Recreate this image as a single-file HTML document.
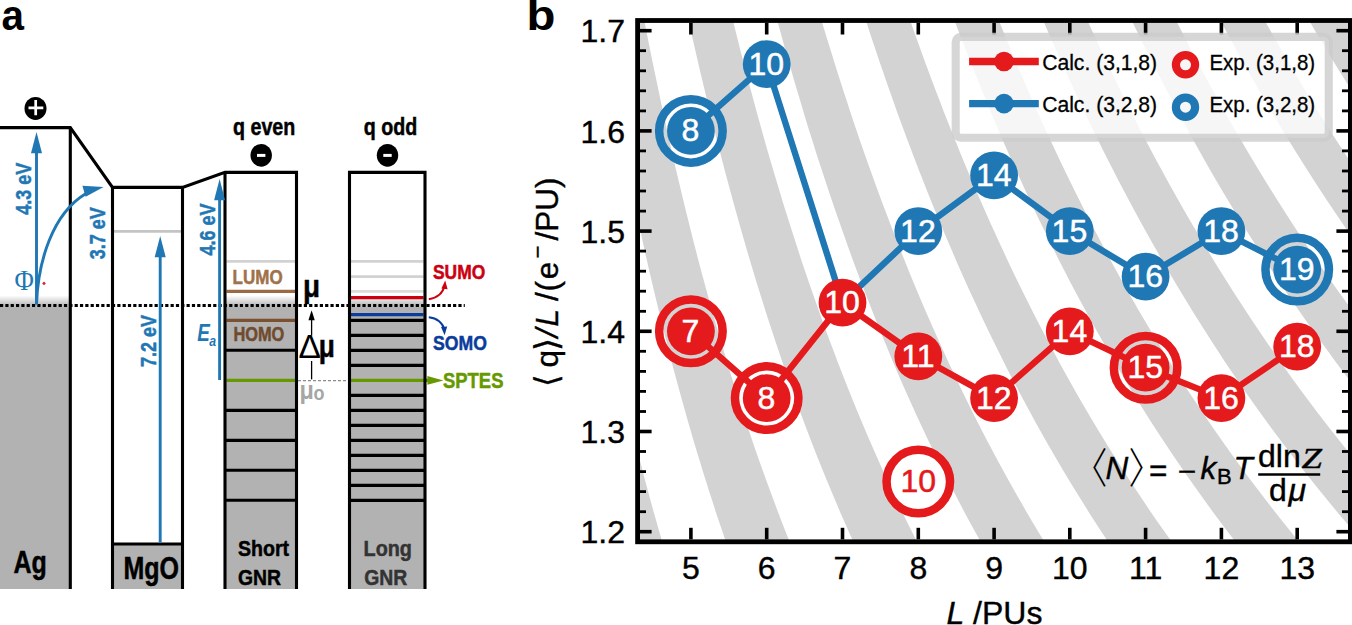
<!DOCTYPE html>
<html lang="en">
<head>
<meta charset="utf-8">
<title>Figure</title>
<style>html,body{margin:0;padding:0;background:#fff;}body{width:1352px;height:625px;overflow:hidden;}svg{display:block;}</style>
</head>
<body>
<svg width="1352" height="625" viewBox="0 0 1352 625">
<defs>
<clipPath id="axclip"><rect x="637.6" y="20.5" width="712.8000000000001" height="521.3"/></clipPath>
<linearGradient id="fade" x1="0" y1="0" x2="0" y2="1"><stop offset="0" stop-color="#b2b2b2" stop-opacity="0"/><stop offset="1" stop-color="#b2b2b2" stop-opacity="1"/></linearGradient>
</defs>
<rect width="1352" height="625" fill="#fff"/>
<g clip-path="url(#axclip)" fill="#d3d3d3">
<path d="M606.0,571.8 L603.4,561.8 L601.0,551.7 L598.6,541.7 L596.2,531.7 L593.8,521.7 L591.5,511.7 L589.2,501.6 L587.0,491.6 L584.8,481.6 L582.6,471.6 L580.5,461.6 L578.4,451.5 L576.3,441.5 L574.3,431.5 L572.3,421.5 L570.3,411.5 L568.4,401.4 L566.5,391.4 L564.6,381.4 L562.7,371.4 L560.9,361.4 L559.1,351.3 L557.3,341.3 L555.6,331.3 L553.8,321.3 L552.1,311.3 L550.5,301.2 L548.8,291.2 L547.2,281.2 L545.5,271.2 L544.0,261.2 L542.4,251.1 L540.8,241.1 L539.3,231.1 L537.8,221.1 L536.3,211.1 L534.9,201.0 L533.4,191.0 L532.0,181.0 L530.6,171.0 L529.2,161.0 L527.8,150.9 L526.5,140.9 L525.1,130.9 L523.8,120.9 L522.5,110.9 L521.2,100.8 L519.9,90.8 L518.6,80.8 L517.4,70.8 L516.2,60.8 L515.0,50.7 L513.8,40.7 L512.6,30.7 L511.4,20.7 L510.2,10.7 L509.1,0.6 L508.0,-9.4 L506.8,-19.4 L550.1,-19.4 L551.5,-9.4 L552.9,0.6 L554.3,10.7 L555.7,20.7 L557.2,30.7 L558.6,40.7 L560.1,50.7 L561.6,60.8 L563.1,70.8 L564.6,80.8 L566.1,90.8 L567.7,100.8 L569.3,110.9 L570.9,120.9 L572.5,130.9 L574.1,140.9 L575.8,150.9 L577.5,161.0 L579.2,171.0 L580.9,181.0 L582.6,191.0 L584.4,201.0 L586.2,211.1 L588.0,221.1 L589.8,231.1 L591.7,241.1 L593.6,251.1 L595.5,261.2 L597.5,271.2 L599.4,281.2 L601.4,291.2 L603.4,301.2 L605.5,311.3 L607.6,321.3 L609.7,331.3 L611.8,341.3 L614.0,351.3 L616.2,361.4 L618.5,371.4 L620.7,381.4 L623.0,391.4 L625.4,401.4 L627.7,411.5 L630.2,421.5 L632.6,431.5 L635.1,441.5 L637.6,451.5 L640.2,461.6 L642.8,471.6 L645.4,481.6 L648.1,491.6 L650.8,501.6 L653.6,511.7 L656.5,521.7 L659.3,531.7 L662.2,541.7 L665.2,551.7 L668.2,561.8 L671.3,571.8Z"/>
<path d="M736.6,571.8 L733.0,561.8 L729.4,551.7 L725.9,541.7 L722.5,531.7 L719.1,521.7 L715.7,511.7 L712.5,501.6 L709.2,491.6 L706.1,481.6 L702.9,471.6 L699.9,461.6 L696.8,451.5 L693.8,441.5 L690.9,431.5 L688.0,421.5 L685.2,411.5 L682.4,401.4 L679.6,391.4 L676.9,381.4 L674.2,371.4 L671.5,361.4 L668.9,351.3 L666.4,341.3 L663.8,331.3 L661.3,321.3 L658.9,311.3 L656.5,301.2 L654.1,291.2 L651.7,281.2 L649.4,271.2 L647.1,261.2 L644.8,251.1 L642.6,241.1 L640.4,231.1 L638.2,221.1 L636.1,211.1 L633.9,201.0 L631.8,191.0 L629.8,181.0 L627.7,171.0 L625.7,161.0 L623.7,150.9 L621.8,140.9 L619.8,130.9 L617.9,120.9 L616.0,110.9 L614.2,100.8 L612.3,90.8 L610.5,80.8 L608.7,70.8 L606.9,60.8 L605.2,50.7 L603.4,40.7 L601.7,30.7 L600.0,20.7 L598.4,10.7 L596.7,0.6 L595.1,-9.4 L593.5,-19.4 L636.8,-19.4 L638.6,-9.4 L640.5,0.6 L642.4,10.7 L644.4,20.7 L646.3,30.7 L648.3,40.7 L650.3,50.7 L652.3,60.8 L654.4,70.8 L656.5,80.8 L658.6,90.8 L660.7,100.8 L662.8,110.9 L665.0,120.9 L667.2,130.9 L669.5,140.9 L671.7,150.9 L674.0,161.0 L676.3,171.0 L678.7,181.0 L681.1,191.0 L683.5,201.0 L685.9,211.1 L688.4,221.1 L690.9,231.1 L693.4,241.1 L696.0,251.1 L698.6,261.2 L701.3,271.2 L704.0,281.2 L706.7,291.2 L709.5,301.2 L712.2,311.3 L715.1,321.3 L718.0,331.3 L720.9,341.3 L723.9,351.3 L726.9,361.4 L729.9,371.4 L733.0,381.4 L736.1,391.4 L739.3,401.4 L742.6,411.5 L745.9,421.5 L749.2,431.5 L752.6,441.5 L756.0,451.5 L759.5,461.6 L763.1,471.6 L766.7,481.6 L770.4,491.6 L774.1,501.6 L777.9,511.7 L781.7,521.7 L785.6,531.7 L789.6,541.7 L793.7,551.7 L797.8,561.8 L802.0,571.8Z"/>
<path d="M867.3,571.8 L862.6,561.8 L857.9,551.7 L853.3,541.7 L848.8,531.7 L844.4,521.7 L840.0,511.7 L835.7,501.6 L831.5,491.6 L827.3,481.6 L823.2,471.6 L819.2,461.6 L815.2,451.5 L811.3,441.5 L807.5,431.5 L803.7,421.5 L800.0,411.5 L796.3,401.4 L792.7,391.4 L789.1,381.4 L785.6,371.4 L782.2,361.4 L778.8,351.3 L775.4,341.3 L772.1,331.3 L768.8,321.3 L765.6,311.3 L762.5,301.2 L759.3,291.2 L756.2,281.2 L753.2,271.2 L750.2,261.2 L747.2,251.1 L744.3,241.1 L741.4,231.1 L738.6,221.1 L735.8,211.1 L733.0,201.0 L730.3,191.0 L727.6,181.0 L724.9,171.0 L722.3,161.0 L719.7,150.9 L717.1,140.9 L714.6,130.9 L712.1,120.9 L709.6,110.9 L707.2,100.8 L704.8,90.8 L702.4,80.8 L700.0,70.8 L697.7,60.8 L695.4,50.7 L693.1,40.7 L690.9,30.7 L688.7,20.7 L686.5,10.7 L684.3,0.6 L682.2,-9.4 L680.1,-19.4 L723.4,-19.4 L725.7,-9.4 L728.1,0.6 L730.6,10.7 L733.0,20.7 L735.5,30.7 L738.0,40.7 L740.5,50.7 L743.1,60.8 L745.7,70.8 L748.3,80.8 L751.0,90.8 L753.7,100.8 L756.4,110.9 L759.2,120.9 L762.0,130.9 L764.8,140.9 L767.6,150.9 L770.6,161.0 L773.5,171.0 L776.5,181.0 L779.5,191.0 L782.5,201.0 L785.6,211.1 L788.8,221.1 L792.0,231.1 L795.2,241.1 L798.4,251.1 L801.7,261.2 L805.1,271.2 L808.5,281.2 L812.0,291.2 L815.5,301.2 L819.0,311.3 L822.6,321.3 L826.2,331.3 L829.9,341.3 L833.7,351.3 L837.5,361.4 L841.4,371.4 L845.3,381.4 L849.3,391.4 L853.3,401.4 L857.4,411.5 L861.6,421.5 L865.8,431.5 L870.1,441.5 L874.5,451.5 L878.9,461.6 L883.4,471.6 L888.0,481.6 L892.6,491.6 L897.3,501.6 L902.1,511.7 L907.0,521.7 L912.0,531.7 L917.0,541.7 L922.1,551.7 L927.3,561.8 L932.6,571.8Z"/>
<path d="M998.0,571.8 L992.1,561.8 L986.4,551.7 L980.7,541.7 L975.1,531.7 L969.6,521.7 L964.2,511.7 L958.9,501.6 L953.7,491.6 L948.6,481.6 L943.5,471.6 L938.6,461.6 L933.7,451.5 L928.8,441.5 L924.1,431.5 L919.4,421.5 L914.8,411.5 L910.3,401.4 L905.8,391.4 L901.4,381.4 L897.1,371.4 L892.8,361.4 L888.6,351.3 L884.5,341.3 L880.4,331.3 L876.3,321.3 L872.4,311.3 L868.5,301.2 L864.6,291.2 L860.8,281.2 L857.0,271.2 L853.3,261.2 L849.6,251.1 L846.0,241.1 L842.5,231.1 L839.0,221.1 L835.5,211.1 L832.1,201.0 L828.7,191.0 L825.4,181.0 L822.1,171.0 L818.8,161.0 L815.6,150.9 L812.5,140.9 L809.3,130.9 L806.2,120.9 L803.2,110.9 L800.2,100.8 L797.2,90.8 L794.2,80.8 L791.3,70.8 L788.5,60.8 L785.6,50.7 L782.8,40.7 L780.1,30.7 L777.3,20.7 L774.6,10.7 L771.9,0.6 L769.3,-9.4 L766.7,-19.4 L810.0,-19.4 L812.9,-9.4 L815.8,0.6 L818.7,10.7 L821.6,20.7 L824.6,30.7 L827.7,40.7 L830.8,50.7 L833.9,60.8 L837.0,70.8 L840.2,80.8 L843.4,90.8 L846.7,100.8 L850.0,110.9 L853.3,120.9 L856.7,130.9 L860.1,140.9 L863.6,150.9 L867.1,161.0 L870.7,171.0 L874.3,181.0 L877.9,191.0 L881.6,201.0 L885.4,211.1 L889.2,221.1 L893.0,231.1 L896.9,241.1 L900.9,251.1 L904.9,261.2 L908.9,271.2 L913.0,281.2 L917.2,291.2 L921.4,301.2 L925.7,311.3 L930.1,321.3 L934.5,331.3 L939.0,341.3 L943.5,351.3 L948.1,361.4 L952.8,371.4 L957.6,381.4 L962.4,391.4 L967.3,401.4 L972.2,411.5 L977.3,421.5 L982.4,431.5 L987.6,441.5 L992.9,451.5 L998.2,461.6 L1003.7,471.6 L1009.2,481.6 L1014.8,491.6 L1020.6,501.6 L1026.4,511.7 L1032.3,521.7 L1038.3,531.7 L1044.4,541.7 L1050.6,551.7 L1056.9,561.8 L1063.3,571.8Z"/>
<path d="M1128.7,571.8 L1121.7,561.8 L1114.8,551.7 L1108.1,541.7 L1101.4,531.7 L1094.9,521.7 L1088.5,511.7 L1082.2,501.6 L1076.0,491.6 L1069.8,481.6 L1063.8,471.6 L1057.9,461.6 L1052.1,451.5 L1046.3,441.5 L1040.7,431.5 L1035.1,421.5 L1029.7,411.5 L1024.3,401.4 L1018.9,391.4 L1013.7,381.4 L1008.5,371.4 L1003.5,361.4 L998.5,351.3 L993.5,341.3 L988.6,331.3 L983.8,321.3 L979.1,311.3 L974.5,301.2 L969.8,291.2 L965.3,281.2 L960.8,271.2 L956.4,261.2 L952.1,251.1 L947.8,241.1 L943.5,231.1 L939.4,221.1 L935.2,211.1 L931.1,201.0 L927.1,191.0 L923.2,181.0 L919.2,171.0 L915.4,161.0 L911.6,150.9 L907.8,140.9 L904.1,130.9 L900.4,120.9 L896.7,110.9 L893.2,100.8 L889.6,90.8 L886.1,80.8 L882.7,70.8 L879.2,60.8 L875.9,50.7 L872.5,40.7 L869.2,30.7 L866.0,20.7 L862.7,10.7 L859.6,0.6 L856.4,-9.4 L853.3,-19.4 L896.6,-19.4 L900.0,-9.4 L903.4,0.6 L906.8,10.7 L910.3,20.7 L913.8,30.7 L917.4,40.7 L921.0,50.7 L924.6,60.8 L928.3,70.8 L932.0,80.8 L935.8,90.8 L939.7,100.8 L943.5,110.9 L947.5,120.9 L951.4,130.9 L955.5,140.9 L959.5,150.9 L963.6,161.0 L967.8,171.0 L972.1,181.0 L976.3,191.0 L980.7,201.0 L985.1,211.1 L989.5,221.1 L994.1,231.1 L998.6,241.1 L1003.3,251.1 L1008.0,261.2 L1012.7,271.2 L1017.6,281.2 L1022.5,291.2 L1027.5,301.2 L1032.5,311.3 L1037.6,321.3 L1042.8,331.3 L1048.0,341.3 L1053.4,351.3 L1058.8,361.4 L1064.3,371.4 L1069.9,381.4 L1075.5,391.4 L1081.2,401.4 L1087.1,411.5 L1093.0,421.5 L1099.0,431.5 L1105.1,441.5 L1111.3,451.5 L1117.6,461.6 L1124.0,471.6 L1130.5,481.6 L1137.1,491.6 L1143.8,501.6 L1150.6,511.7 L1157.5,521.7 L1164.6,531.7 L1171.8,541.7 L1179.0,551.7 L1186.5,561.8 L1194.0,571.8Z"/>
<path d="M1259.3,571.8 L1251.2,561.8 L1243.3,551.7 L1235.4,541.7 L1227.7,531.7 L1220.2,521.7 L1212.7,511.7 L1205.4,501.6 L1198.2,491.6 L1191.1,481.6 L1184.1,471.6 L1177.3,461.6 L1170.5,451.5 L1163.9,441.5 L1157.3,431.5 L1150.8,421.5 L1144.5,411.5 L1138.2,401.4 L1132.1,391.4 L1126.0,381.4 L1120.0,371.4 L1114.1,361.4 L1108.3,351.3 L1102.6,341.3 L1096.9,331.3 L1091.4,321.3 L1085.9,311.3 L1080.5,301.2 L1075.1,291.2 L1069.8,281.2 L1064.7,271.2 L1059.5,261.2 L1054.5,251.1 L1049.5,241.1 L1044.6,231.1 L1039.7,221.1 L1034.9,211.1 L1030.2,201.0 L1025.6,191.0 L1021.0,181.0 L1016.4,171.0 L1011.9,161.0 L1007.5,150.9 L1003.1,140.9 L998.8,130.9 L994.5,120.9 L990.3,110.9 L986.2,100.8 L982.0,90.8 L978.0,80.8 L974.0,70.8 L970.0,60.8 L966.1,50.7 L962.2,40.7 L958.4,30.7 L954.6,20.7 L950.9,10.7 L947.2,0.6 L943.5,-9.4 L939.9,-19.4 L983.2,-19.4 L987.1,-9.4 L991.0,0.6 L994.9,10.7 L998.9,20.7 L1003.0,30.7 L1007.1,40.7 L1011.2,50.7 L1015.4,60.8 L1019.6,70.8 L1023.9,80.8 L1028.3,90.8 L1032.7,100.8 L1037.1,110.9 L1041.6,120.9 L1046.2,130.9 L1050.8,140.9 L1055.5,150.9 L1060.2,161.0 L1065.0,171.0 L1069.9,181.0 L1074.8,191.0 L1079.8,201.0 L1084.8,211.1 L1089.9,221.1 L1095.1,231.1 L1100.4,241.1 L1105.7,251.1 L1111.1,261.2 L1116.6,271.2 L1122.1,281.2 L1127.7,291.2 L1133.5,301.2 L1139.2,311.3 L1145.1,321.3 L1151.1,331.3 L1157.1,341.3 L1163.2,351.3 L1169.4,361.4 L1175.7,371.4 L1182.1,381.4 L1188.6,391.4 L1195.2,401.4 L1201.9,411.5 L1208.7,421.5 L1215.6,431.5 L1222.6,441.5 L1229.7,451.5 L1236.9,461.6 L1244.3,471.6 L1251.7,481.6 L1259.3,491.6 L1267.0,501.6 L1274.9,511.7 L1282.8,521.7 L1290.9,531.7 L1299.1,541.7 L1307.5,551.7 L1316.0,561.8 L1324.7,571.8Z"/>
<path d="M1390.0,571.8 L1380.8,561.8 L1371.7,551.7 L1362.8,541.7 L1354.1,531.7 L1345.5,521.7 L1337.0,511.7 L1328.6,501.6 L1320.4,491.6 L1312.4,481.6 L1304.4,471.6 L1296.6,461.6 L1288.9,451.5 L1281.4,441.5 L1273.9,431.5 L1266.6,421.5 L1259.3,411.5 L1252.2,401.4 L1245.2,391.4 L1238.3,381.4 L1231.5,371.4 L1224.7,361.4 L1218.1,351.3 L1211.6,341.3 L1205.2,331.3 L1198.9,321.3 L1192.6,311.3 L1186.5,301.2 L1180.4,291.2 L1174.4,281.2 L1168.5,271.2 L1162.7,261.2 L1156.9,251.1 L1151.2,241.1 L1145.6,231.1 L1140.1,221.1 L1134.7,211.1 L1129.3,201.0 L1124.0,191.0 L1118.7,181.0 L1113.6,171.0 L1108.5,161.0 L1103.4,150.9 L1098.5,140.9 L1093.5,130.9 L1088.7,120.9 L1083.9,110.9 L1079.1,100.8 L1074.5,90.8 L1069.8,80.8 L1065.3,70.8 L1060.8,60.8 L1056.3,50.7 L1051.9,40.7 L1047.6,30.7 L1043.3,20.7 L1039.0,10.7 L1034.8,0.6 L1030.6,-9.4 L1026.5,-19.4 L1069.8,-19.4 L1074.2,-9.4 L1078.6,0.6 L1083.1,10.7 L1087.6,20.7 L1092.1,30.7 L1096.8,40.7 L1101.4,50.7 L1106.2,60.8 L1110.9,70.8 L1115.8,80.8 L1120.7,90.8 L1125.6,100.8 L1130.7,110.9 L1135.8,120.9 L1140.9,130.9 L1146.1,140.9 L1151.4,150.9 L1156.7,161.0 L1162.2,171.0 L1167.6,181.0 L1173.2,191.0 L1178.8,201.0 L1184.5,211.1 L1190.3,221.1 L1196.2,231.1 L1202.1,241.1 L1208.1,251.1 L1214.2,261.2 L1220.4,271.2 L1226.7,281.2 L1233.0,291.2 L1239.5,301.2 L1246.0,311.3 L1252.6,321.3 L1259.3,331.3 L1266.1,341.3 L1273.1,351.3 L1280.1,361.4 L1287.2,371.4 L1294.4,381.4 L1301.7,391.4 L1309.2,401.4 L1316.7,411.5 L1324.4,421.5 L1332.2,431.5 L1340.1,441.5 L1348.1,451.5 L1356.3,461.6 L1364.6,471.6 L1373.0,481.6 L1381.6,491.6 L1390.3,501.6 L1399.1,511.7 L1408.1,521.7 L1417.2,531.7 L1426.5,541.7 L1436.0,551.7 L1445.6,561.8 L1455.3,571.8Z"/>
<path d="M1520.7,571.8 L1510.3,561.8 L1500.2,551.7 L1490.2,541.7 L1480.4,531.7 L1470.7,521.7 L1461.2,511.7 L1451.9,501.6 L1442.7,491.6 L1433.6,481.6 L1424.7,471.6 L1416.0,461.6 L1407.4,451.5 L1398.9,441.5 L1390.5,431.5 L1382.3,421.5 L1374.2,411.5 L1366.2,401.4 L1358.3,391.4 L1350.6,381.4 L1342.9,371.4 L1335.4,361.4 L1328.0,351.3 L1320.7,341.3 L1313.5,331.3 L1306.4,321.3 L1299.4,311.3 L1292.5,301.2 L1285.6,291.2 L1278.9,281.2 L1272.3,271.2 L1265.8,261.2 L1259.3,251.1 L1253.0,241.1 L1246.7,231.1 L1240.5,221.1 L1234.4,211.1 L1228.4,201.0 L1222.4,191.0 L1216.5,181.0 L1210.7,171.0 L1205.0,161.0 L1199.4,150.9 L1193.8,140.9 L1188.3,130.9 L1182.8,120.9 L1177.5,110.9 L1172.1,100.8 L1166.9,90.8 L1161.7,80.8 L1156.6,70.8 L1151.5,60.8 L1146.5,50.7 L1141.6,40.7 L1136.7,30.7 L1131.9,20.7 L1127.1,10.7 L1122.4,0.6 L1117.8,-9.4 L1113.2,-19.4 L1156.5,-19.4 L1161.3,-9.4 L1166.2,0.6 L1171.2,10.7 L1176.2,20.7 L1181.3,30.7 L1186.5,40.7 L1191.7,50.7 L1196.9,60.8 L1202.3,70.8 L1207.7,80.8 L1213.1,90.8 L1218.6,100.8 L1224.2,110.9 L1229.9,120.9 L1235.6,130.9 L1241.5,140.9 L1247.3,150.9 L1253.3,161.0 L1259.3,171.0 L1265.4,181.0 L1271.6,191.0 L1277.9,201.0 L1284.3,211.1 L1290.7,221.1 L1297.2,231.1 L1303.8,241.1 L1310.5,251.1 L1317.3,261.2 L1324.2,271.2 L1331.2,281.2 L1338.3,291.2 L1345.5,301.2 L1352.7,311.3 L1360.1,321.3 L1367.6,331.3 L1375.2,341.3 L1382.9,351.3 L1390.7,361.4 L1398.6,371.4 L1406.7,381.4 L1414.9,391.4 L1423.2,401.4 L1431.6,411.5 L1440.1,421.5 L1448.8,431.5 L1457.6,441.5 L1466.6,451.5 L1475.7,461.6 L1484.9,471.6 L1494.3,481.6 L1503.8,491.6 L1513.5,501.6 L1523.3,511.7 L1533.4,521.7 L1543.5,531.7 L1553.9,541.7 L1564.4,551.7 L1575.1,561.8 L1586.0,571.8Z"/>
<path d="M1651.3,571.8 L1639.9,561.8 L1628.6,551.7 L1617.6,541.7 L1606.7,531.7 L1596.0,521.7 L1585.5,511.7 L1575.1,501.6 L1564.9,491.6 L1554.9,481.6 L1545.0,471.6 L1535.3,461.6 L1525.8,451.5 L1516.4,441.5 L1507.1,431.5 L1498.0,421.5 L1489.0,411.5 L1480.1,401.4 L1471.4,391.4 L1462.8,381.4 L1454.4,371.4 L1446.0,361.4 L1437.8,351.3 L1429.7,341.3 L1421.7,331.3 L1413.9,321.3 L1406.1,311.3 L1398.5,301.2 L1390.9,291.2 L1383.5,281.2 L1376.1,271.2 L1368.9,261.2 L1361.7,251.1 L1354.7,241.1 L1347.7,231.1 L1340.9,221.1 L1334.1,211.1 L1327.4,201.0 L1320.8,191.0 L1314.3,181.0 L1307.9,171.0 L1301.6,161.0 L1295.3,150.9 L1289.1,140.9 L1283.0,130.9 L1277.0,120.9 L1271.0,110.9 L1265.1,100.8 L1259.3,90.8 L1253.6,80.8 L1247.9,70.8 L1242.3,60.8 L1236.8,50.7 L1231.3,40.7 L1225.9,30.7 L1220.5,20.7 L1215.3,10.7 L1210.0,0.6 L1204.9,-9.4 L1199.8,-19.4 L1243.1,-19.4 L1248.4,-9.4 L1253.8,0.6 L1259.3,10.7 L1264.9,20.7 L1270.5,30.7 L1276.1,40.7 L1281.9,50.7 L1287.7,60.8 L1293.6,70.8 L1299.5,80.8 L1305.5,90.8 L1311.6,100.8 L1317.8,110.9 L1324.1,120.9 L1330.4,130.9 L1336.8,140.9 L1343.3,150.9 L1349.8,161.0 L1356.5,171.0 L1363.2,181.0 L1370.1,191.0 L1377.0,201.0 L1384.0,211.1 L1391.1,221.1 L1398.3,231.1 L1405.6,241.1 L1413.0,251.1 L1420.4,261.2 L1428.0,271.2 L1435.7,281.2 L1443.5,291.2 L1451.5,301.2 L1459.5,311.3 L1467.6,321.3 L1475.9,331.3 L1484.2,341.3 L1492.7,351.3 L1501.4,361.4 L1510.1,371.4 L1519.0,381.4 L1528.0,391.4 L1537.1,401.4 L1546.4,411.5 L1555.8,421.5 L1565.4,431.5 L1575.1,441.5 L1585.0,451.5 L1595.0,461.6 L1605.2,471.6 L1615.5,481.6 L1626.1,491.6 L1636.7,501.6 L1647.6,511.7 L1658.6,521.7 L1669.9,531.7 L1681.3,541.7 L1692.9,551.7 L1704.7,561.8 L1716.7,571.8Z"/>
<path d="M1782.0,571.8 L1769.5,561.8 L1757.1,551.7 L1745.0,541.7 L1733.0,531.7 L1721.3,521.7 L1709.7,511.7 L1698.4,501.6 L1687.2,491.6 L1676.2,481.6 L1665.3,471.6 L1654.7,461.6 L1644.2,451.5 L1633.9,441.5 L1623.7,431.5 L1613.7,421.5 L1603.8,411.5 L1594.1,401.4 L1584.5,391.4 L1575.1,381.4 L1565.8,371.4 L1556.7,361.4 L1547.7,351.3 L1538.8,341.3 L1530.0,331.3 L1521.4,321.3 L1512.8,311.3 L1504.5,301.2 L1496.2,291.2 L1488.0,281.2 L1479.9,271.2 L1472.0,261.2 L1464.2,251.1 L1456.4,241.1 L1448.8,231.1 L1441.3,221.1 L1433.8,211.1 L1426.5,201.0 L1419.3,191.0 L1412.1,181.0 L1405.1,171.0 L1398.1,161.0 L1391.2,150.9 L1384.5,140.9 L1377.7,130.9 L1371.1,120.9 L1364.6,110.9 L1358.1,100.8 L1351.8,90.8 L1345.5,80.8 L1339.2,70.8 L1333.1,60.8 L1327.0,50.7 L1321.0,40.7 L1315.1,30.7 L1309.2,20.7 L1303.4,10.7 L1297.7,0.6 L1292.0,-9.4 L1286.4,-19.4 L1329.7,-19.4 L1335.6,-9.4 L1341.5,0.6 L1347.5,10.7 L1353.5,20.7 L1359.6,30.7 L1365.8,40.7 L1372.1,50.7 L1378.5,60.8 L1384.9,70.8 L1391.4,80.8 L1398.0,90.8 L1404.6,100.8 L1411.4,110.9 L1418.2,120.9 L1425.1,130.9 L1432.1,140.9 L1439.2,150.9 L1446.4,161.0 L1453.7,171.0 L1461.0,181.0 L1468.5,191.0 L1476.0,201.0 L1483.7,211.1 L1491.5,221.1 L1499.3,231.1 L1507.3,241.1 L1515.4,251.1 L1523.6,261.2 L1531.9,271.2 L1540.3,281.2 L1548.8,291.2 L1557.5,301.2 L1566.2,311.3 L1575.1,321.3 L1584.1,331.3 L1593.3,341.3 L1602.6,351.3 L1612.0,361.4 L1621.6,371.4 L1631.3,381.4 L1641.1,391.4 L1651.1,401.4 L1661.2,411.5 L1671.5,421.5 L1682.0,431.5 L1692.6,441.5 L1703.4,451.5 L1714.4,461.6 L1725.5,471.6 L1736.8,481.6 L1748.3,491.6 L1760.0,501.6 L1771.8,511.7 L1783.9,521.7 L1796.2,531.7 L1808.6,541.7 L1821.3,551.7 L1834.2,561.8 L1847.4,571.8Z"/>
</g>
<g clip-path="url(#axclip)">
<circle cx="690.9" cy="130.9" r="31.75" fill="none" stroke="#1f77b4" stroke-width="8.50"/>
<circle cx="1297.2" cy="269.6" r="31.75" fill="none" stroke="#1f77b4" stroke-width="8.50"/>
<circle cx="690.9" cy="331.3" r="31.75" fill="none" stroke="#e41a1c" stroke-width="8.50"/>
<circle cx="766.7" cy="398.1" r="31.75" fill="none" stroke="#e41a1c" stroke-width="8.50"/>
<circle cx="1145.6" cy="367.7" r="31.75" fill="none" stroke="#e41a1c" stroke-width="8.50"/>
<circle cx="918.3" cy="481.6" r="31.75" fill="none" stroke="#e41a1c" stroke-width="8.50"/>
<polyline points="690.9,130.9 766.7,64.1 842.5,302.7 918.3,231.1 994.1,175.4 1069.8,231.1 1145.6,276.6 1221.4,231.1 1297.2,269.6" fill="none" stroke="#1f77b4" stroke-width="6.4" stroke-linejoin="round"/>
<polyline points="690.9,331.3 766.7,398.1 842.5,302.7 918.3,356.3 994.1,398.1 1069.8,331.3 1145.6,367.7 1221.4,398.1 1297.2,346.7" fill="none" stroke="#e41a1c" stroke-width="6.4" stroke-linejoin="round"/>
<circle cx="690.9" cy="130.9" r="23.9" fill="#1f77b4"/>
<circle cx="766.7" cy="64.1" r="23.9" fill="#1f77b4"/>
<circle cx="918.3" cy="231.1" r="23.9" fill="#1f77b4"/>
<circle cx="994.1" cy="175.4" r="23.9" fill="#1f77b4"/>
<circle cx="1069.8" cy="231.1" r="23.9" fill="#1f77b4"/>
<circle cx="1145.6" cy="276.6" r="23.9" fill="#1f77b4"/>
<circle cx="1221.4" cy="231.1" r="23.9" fill="#1f77b4"/>
<circle cx="1297.2" cy="269.6" r="23.9" fill="#1f77b4"/>
<circle cx="690.9" cy="331.3" r="23.9" fill="#e41a1c"/>
<circle cx="766.7" cy="398.1" r="23.9" fill="#e41a1c"/>
<circle cx="842.5" cy="302.7" r="23.9" fill="#e41a1c"/>
<circle cx="918.3" cy="356.3" r="23.9" fill="#e41a1c"/>
<circle cx="994.1" cy="398.1" r="23.9" fill="#e41a1c"/>
<circle cx="1069.8" cy="331.3" r="23.9" fill="#e41a1c"/>
<circle cx="1145.6" cy="367.7" r="23.9" fill="#e41a1c"/>
<circle cx="1221.4" cy="398.1" r="23.9" fill="#e41a1c"/>
<circle cx="1297.2" cy="346.7" r="23.9" fill="#e41a1c"/>
</g>
<g font-family="'Liberation Sans', Arial, Helvetica, sans-serif" font-size="32" text-anchor="middle" fill="#fff" stroke="#fff" stroke-width="0.5">
<text x="690.5" y="141.3">8</text>
<text x="766.3" y="74.5">10</text>
<text x="917.9" y="241.5">12</text>
<text x="993.7" y="185.8">14</text>
<text x="1069.4" y="241.5">15</text>
<text x="1145.2" y="287.0">16</text>
<text x="1221.0" y="241.5">18</text>
<text x="1296.8" y="280.0">19</text>
<text x="690.5" y="341.7">7</text>
<text x="766.3" y="408.5">8</text>
<text x="842.1" y="313.1">10</text>
<text x="917.9" y="366.7">11</text>
<text x="993.7" y="408.5">12</text>
<text x="1069.4" y="341.7">14</text>
<text x="1145.2" y="378.1">15</text>
<text x="1221.0" y="408.5">16</text>
<text x="1296.8" y="357.1">18</text>
</g>
<text x="918.3" y="492.0" font-family="'Liberation Sans', Arial, sans-serif" font-size="32" text-anchor="middle" fill="#e41a1c" stroke="#e41a1c" stroke-width="0.5">10</text>
<g stroke="#000" fill="none">
<line x1="690.9" y1="539.4" x2="690.9" y2="527.8" stroke-width="3.6"/>
<line x1="690.9" y1="22.9" x2="690.9" y2="34.5" stroke-width="3.6"/>
<line x1="766.7" y1="539.4" x2="766.7" y2="527.8" stroke-width="3.6"/>
<line x1="766.7" y1="22.9" x2="766.7" y2="34.5" stroke-width="3.6"/>
<line x1="842.5" y1="539.4" x2="842.5" y2="527.8" stroke-width="3.6"/>
<line x1="842.5" y1="22.9" x2="842.5" y2="34.5" stroke-width="3.6"/>
<line x1="918.3" y1="539.4" x2="918.3" y2="527.8" stroke-width="3.6"/>
<line x1="918.3" y1="22.9" x2="918.3" y2="34.5" stroke-width="3.6"/>
<line x1="994.1" y1="539.4" x2="994.1" y2="527.8" stroke-width="3.6"/>
<line x1="994.1" y1="22.9" x2="994.1" y2="34.5" stroke-width="3.6"/>
<line x1="1069.8" y1="539.4" x2="1069.8" y2="527.8" stroke-width="3.6"/>
<line x1="1069.8" y1="22.9" x2="1069.8" y2="34.5" stroke-width="3.6"/>
<line x1="1145.6" y1="539.4" x2="1145.6" y2="527.8" stroke-width="3.6"/>
<line x1="1145.6" y1="22.9" x2="1145.6" y2="34.5" stroke-width="3.6"/>
<line x1="1221.4" y1="539.4" x2="1221.4" y2="527.8" stroke-width="3.6"/>
<line x1="1221.4" y1="22.9" x2="1221.4" y2="34.5" stroke-width="3.6"/>
<line x1="1297.2" y1="539.4" x2="1297.2" y2="527.8" stroke-width="3.6"/>
<line x1="1297.2" y1="22.9" x2="1297.2" y2="34.5" stroke-width="3.6"/>
<line x1="640.0" y1="531.7" x2="651.6" y2="531.7" stroke-width="3.6"/>
<line x1="1348.0" y1="531.7" x2="1336.4" y2="531.7" stroke-width="3.6"/>
<line x1="640.0" y1="511.7" x2="646.0" y2="511.7" stroke-width="2.8"/>
<line x1="1348.0" y1="511.7" x2="1342.0" y2="511.7" stroke-width="2.8"/>
<line x1="640.0" y1="491.6" x2="646.0" y2="491.6" stroke-width="2.8"/>
<line x1="1348.0" y1="491.6" x2="1342.0" y2="491.6" stroke-width="2.8"/>
<line x1="640.0" y1="471.6" x2="646.0" y2="471.6" stroke-width="2.8"/>
<line x1="1348.0" y1="471.6" x2="1342.0" y2="471.6" stroke-width="2.8"/>
<line x1="640.0" y1="451.5" x2="646.0" y2="451.5" stroke-width="2.8"/>
<line x1="1348.0" y1="451.5" x2="1342.0" y2="451.5" stroke-width="2.8"/>
<line x1="640.0" y1="431.5" x2="651.6" y2="431.5" stroke-width="3.6"/>
<line x1="1348.0" y1="431.5" x2="1336.4" y2="431.5" stroke-width="3.6"/>
<line x1="640.0" y1="411.5" x2="646.0" y2="411.5" stroke-width="2.8"/>
<line x1="1348.0" y1="411.5" x2="1342.0" y2="411.5" stroke-width="2.8"/>
<line x1="640.0" y1="391.4" x2="646.0" y2="391.4" stroke-width="2.8"/>
<line x1="1348.0" y1="391.4" x2="1342.0" y2="391.4" stroke-width="2.8"/>
<line x1="640.0" y1="371.4" x2="646.0" y2="371.4" stroke-width="2.8"/>
<line x1="1348.0" y1="371.4" x2="1342.0" y2="371.4" stroke-width="2.8"/>
<line x1="640.0" y1="351.3" x2="646.0" y2="351.3" stroke-width="2.8"/>
<line x1="1348.0" y1="351.3" x2="1342.0" y2="351.3" stroke-width="2.8"/>
<line x1="640.0" y1="331.3" x2="651.6" y2="331.3" stroke-width="3.6"/>
<line x1="1348.0" y1="331.3" x2="1336.4" y2="331.3" stroke-width="3.6"/>
<line x1="640.0" y1="311.3" x2="646.0" y2="311.3" stroke-width="2.8"/>
<line x1="1348.0" y1="311.3" x2="1342.0" y2="311.3" stroke-width="2.8"/>
<line x1="640.0" y1="291.2" x2="646.0" y2="291.2" stroke-width="2.8"/>
<line x1="1348.0" y1="291.2" x2="1342.0" y2="291.2" stroke-width="2.8"/>
<line x1="640.0" y1="271.2" x2="646.0" y2="271.2" stroke-width="2.8"/>
<line x1="1348.0" y1="271.2" x2="1342.0" y2="271.2" stroke-width="2.8"/>
<line x1="640.0" y1="251.1" x2="646.0" y2="251.1" stroke-width="2.8"/>
<line x1="1348.0" y1="251.1" x2="1342.0" y2="251.1" stroke-width="2.8"/>
<line x1="640.0" y1="231.1" x2="651.6" y2="231.1" stroke-width="3.6"/>
<line x1="1348.0" y1="231.1" x2="1336.4" y2="231.1" stroke-width="3.6"/>
<line x1="640.0" y1="211.1" x2="646.0" y2="211.1" stroke-width="2.8"/>
<line x1="1348.0" y1="211.1" x2="1342.0" y2="211.1" stroke-width="2.8"/>
<line x1="640.0" y1="191.0" x2="646.0" y2="191.0" stroke-width="2.8"/>
<line x1="1348.0" y1="191.0" x2="1342.0" y2="191.0" stroke-width="2.8"/>
<line x1="640.0" y1="171.0" x2="646.0" y2="171.0" stroke-width="2.8"/>
<line x1="1348.0" y1="171.0" x2="1342.0" y2="171.0" stroke-width="2.8"/>
<line x1="640.0" y1="150.9" x2="646.0" y2="150.9" stroke-width="2.8"/>
<line x1="1348.0" y1="150.9" x2="1342.0" y2="150.9" stroke-width="2.8"/>
<line x1="640.0" y1="130.9" x2="651.6" y2="130.9" stroke-width="3.6"/>
<line x1="1348.0" y1="130.9" x2="1336.4" y2="130.9" stroke-width="3.6"/>
<line x1="640.0" y1="110.9" x2="646.0" y2="110.9" stroke-width="2.8"/>
<line x1="1348.0" y1="110.9" x2="1342.0" y2="110.9" stroke-width="2.8"/>
<line x1="640.0" y1="90.8" x2="646.0" y2="90.8" stroke-width="2.8"/>
<line x1="1348.0" y1="90.8" x2="1342.0" y2="90.8" stroke-width="2.8"/>
<line x1="640.0" y1="70.8" x2="646.0" y2="70.8" stroke-width="2.8"/>
<line x1="1348.0" y1="70.8" x2="1342.0" y2="70.8" stroke-width="2.8"/>
<line x1="640.0" y1="50.7" x2="646.0" y2="50.7" stroke-width="2.8"/>
<line x1="1348.0" y1="50.7" x2="1342.0" y2="50.7" stroke-width="2.8"/>
<line x1="640.0" y1="30.7" x2="651.6" y2="30.7" stroke-width="3.6"/>
<line x1="1348.0" y1="30.7" x2="1336.4" y2="30.7" stroke-width="3.6"/>
</g>
<rect x="955.7" y="36.85" width="373.05" height="100.9" rx="5.2" ry="5.2" fill="#fff" fill-opacity="0.8" stroke="#ccc" stroke-opacity="0.8" stroke-width="8.1"/>
<line x1="969.1" y1="61.5" x2="1038.8" y2="61.5" stroke="#e41a1c" stroke-width="7.4"/>
<circle cx="1004" cy="61.5" r="9.8" fill="#e41a1c"/>
<line x1="969.1" y1="103.6" x2="1038.8" y2="103.6" stroke="#1f77b4" stroke-width="7.4"/>
<circle cx="1004" cy="103.6" r="9.8" fill="#1f77b4"/>
<circle cx="1185.5" cy="64.8" r="9.6" fill="none" stroke="#e41a1c" stroke-width="8.2"/>
<circle cx="1185.5" cy="107.2" r="9.6" fill="none" stroke="#1f77b4" stroke-width="8.2"/>
<g font-family="'Liberation Sans', Arial, sans-serif" font-size="21.5" fill="#000" stroke="#000" stroke-width="0.3">
<text transform="translate(1042.2,69.9) scale(0.982,1)">Calc. (3,1,8)</text>
<text transform="translate(1042.2,111.6) scale(0.982,1)">Calc. (3,2,8)</text>
<text transform="translate(1209.4,69.9) scale(0.952,1)">Exp. (3,1,8)</text>
<text transform="translate(1209.4,111.6) scale(0.952,1)">Exp. (3,2,8)</text>
</g>
<rect x="637.6" y="20.5" width="712.8000000000001" height="521.3" fill="none" stroke="#000" stroke-width="4.8"/>
<g font-family="'Liberation Sans', Arial, sans-serif" font-size="32" fill="#000" stroke="#000" stroke-width="0.4">
<text x="625" y="543.4" text-anchor="end">1.2</text>
<text x="625" y="443.2" text-anchor="end">1.3</text>
<text x="625" y="343.0" text-anchor="end">1.4</text>
<text x="625" y="242.8" text-anchor="end">1.5</text>
<text x="625" y="142.6" text-anchor="end">1.6</text>
<text x="625" y="42.4" text-anchor="end">1.7</text>
<text x="690.9" y="579.1" text-anchor="middle">5</text>
<text x="766.7" y="579.1" text-anchor="middle">6</text>
<text x="842.5" y="579.1" text-anchor="middle">7</text>
<text x="918.3" y="579.1" text-anchor="middle">8</text>
<text x="994.1" y="579.1" text-anchor="middle">9</text>
<text x="1069.8" y="579.1" text-anchor="middle">10</text>
<text x="1145.6" y="579.1" text-anchor="middle">11</text>
<text x="1221.4" y="579.1" text-anchor="middle">12</text>
<text x="1297.2" y="579.1" text-anchor="middle">13</text>
<text x="994.4" y="624.3" text-anchor="middle"><tspan font-style="italic">L</tspan> /PUs</text>
<text transform="translate(557.5,384.1) rotate(-90)" font-size="31.5"><tspan x="-2.9" y="0" font-family="'DejaVu Sans', sans-serif" font-size="32.4">⟨</tspan><tspan x="16.7" y="0">q</tspan><tspan x="33.4" y="0" font-family="'DejaVu Sans', sans-serif" font-size="32.4">⟩</tspan><tspan x="46.6" y="0" font-style="italic">/</tspan><tspan x="57.6" y="0" font-style="italic">L</tspan><tspan x="83" y="0">/</tspan><tspan x="92.7" y="0">(</tspan><tspan x="104.8" y="0">e</tspan><tspan x="125.6" y="-12.6" font-size="22">−</tspan><tspan x="143.7" y="0">/PU)</tspan></text>
</g>
<g font-family="'Liberation Sans', Arial, sans-serif" fill="#000" stroke="#000" stroke-width="0.4">
<text transform="translate(1071.8,483.4) scale(0.85,1)" font-family="'Liberation Sans', 'Noto Sans CJK JP', sans-serif" font-weight="300" font-size="42" stroke="none">〈</text>
<text transform="translate(1128.6,483.4) scale(0.85,1)" font-family="'Liberation Sans', 'Noto Sans CJK JP', sans-serif" font-weight="300" font-size="42" stroke="none">〉</text>
<text x="1105.4" y="479" font-size="31.5" font-style="italic">N</text>
<text x="1149" y="481.4" font-size="31.5">=</text>
<text x="1177.7" y="481.5" font-size="31.5">−</text>
<text x="1200.6" y="479" font-size="31.5" font-style="italic">k</text>
<text x="1217" y="484.2" font-size="22">B</text>
<text x="1233.6" y="479" font-size="31.5" font-style="italic">T</text>
<text x="1258" y="467.1" font-size="32">dln</text>
<text transform="translate(1301.4,467.5) scale(1.27,1)" font-family="'Liberation Serif', serif" font-style="italic" font-size="29">Z</text>
<line x1="1258.2" y1="474.5" x2="1320.2" y2="474.5" stroke="#000" stroke-width="2.6"/>
<text x="1269" y="500.7" font-size="32">d<tspan font-style="italic" dx="1.6">μ</tspan></text>
</g>
<g font-family="'Liberation Sans', Arial, sans-serif" font-weight="bold" font-size="43" fill="#000">
<text transform="translate(1.4,29.7) scale(0.94,1)">a</text>
<text transform="translate(526.4,29.5) scale(1.1,1)">b</text>
</g>
<rect x="0" y="295.5" width="70.3" height="11" fill="url(#fade)"/>
<rect x="0" y="306.4" width="70.3" height="282.6" fill="#b2b2b2"/>
<rect x="225" y="295.5" width="71.5" height="11" fill="url(#fade)"/>
<rect x="225" y="306.4" width="71.5" height="282.6" fill="#b2b2b2"/>
<rect x="349.5" y="295.5" width="75.5" height="11" fill="url(#fade)"/>
<rect x="349.5" y="306.4" width="75.5" height="282.6" fill="#b2b2b2"/>
<rect x="112.5" y="544" width="70" height="45.0" fill="#b2b2b2"/>
<g stroke-width="2.6" fill="none">
<line x1="114" y1="231.4" x2="181" y2="231.4" stroke="#c4c4c4"/>
<line x1="226.5" y1="261.4" x2="295" y2="261.4" stroke="#d2d2d2"/>
<line x1="351" y1="261.4" x2="423.5" y2="261.4" stroke="#d2d2d2"/>
<line x1="351" y1="276.6" x2="423.5" y2="276.6" stroke="#d2d2d2"/>
<line x1="351" y1="291.4" x2="423.5" y2="291.4" stroke="#dcdcdc"/>
</g>
<g stroke-width="3.1" fill="none">
<line x1="226.5" y1="291.4" x2="295" y2="291.4" stroke="#9b6a43"/>
<line x1="226.5" y1="320.4" x2="295" y2="320.4" stroke="#7a5232"/>
<line x1="226.5" y1="380.4" x2="295" y2="380.4" stroke="#669900"/>
<line x1="351" y1="297.6" x2="423.5" y2="297.6" stroke="#cc0010"/>
<line x1="351" y1="314.6" x2="423.5" y2="314.6" stroke="#0a3c9c"/>
<line x1="351" y1="380.4" x2="430" y2="380.4" stroke="#669900"/>
</g>
<g stroke="#000" stroke-width="3.1" fill="none">
<line x1="225" y1="350.2" x2="296.5" y2="350.2"/>
<line x1="225" y1="410.4" x2="296.5" y2="410.4"/>
<line x1="225" y1="440.4" x2="296.5" y2="440.4"/>
<line x1="225" y1="470.2" x2="296.5" y2="470.2"/>
<line x1="225" y1="500.2" x2="296.5" y2="500.2"/>
<line x1="349.5" y1="320.4" x2="425" y2="320.4"/>
<line x1="349.5" y1="335.4" x2="425" y2="335.4"/>
<line x1="349.5" y1="350.4" x2="425" y2="350.4"/>
<line x1="349.5" y1="365.4" x2="425" y2="365.4"/>
<line x1="349.5" y1="395.4" x2="425" y2="395.4"/>
<line x1="349.5" y1="410.4" x2="425" y2="410.4"/>
<line x1="349.5" y1="425.4" x2="425" y2="425.4"/>
<line x1="349.5" y1="440.4" x2="425" y2="440.4"/>
<line x1="349.5" y1="455.4" x2="425" y2="455.4"/>
<line x1="349.5" y1="470.4" x2="425" y2="470.4"/>
<line x1="349.5" y1="485.4" x2="425" y2="485.4"/>
<line x1="349.5" y1="500.4" x2="425" y2="500.4"/>
<line x1="112.5" y1="544" x2="182.5" y2="544"/>
<polyline points="0,127.6 70.3,127.6 112.5,187.4 182.5,187.4 225,172.4 296.5,172.4 296.5,589.0" stroke-linejoin="miter"/>
<line x1="70.3" y1="127.6" x2="70.3" y2="589.0"/>
<line x1="112.5" y1="187.4" x2="112.5" y2="589.0"/>
<line x1="182.5" y1="187.4" x2="182.5" y2="589.0"/>
<line x1="225" y1="172.4" x2="225" y2="589.0"/>
<polyline points="349.5,589.0 349.5,172.4 425,172.4 425,589.0"/>
</g>
<line x1="0" y1="305.5" x2="464.8" y2="305.5" stroke="#000" stroke-width="3.1" stroke-dasharray="3.2 2.13"/>
<line x1="298" y1="380.6" x2="348" y2="380.6" stroke="#8c8c8c" stroke-width="1.1" stroke-dasharray="3 2"/>
<g stroke="#1f77b4" stroke-width="2.9" fill="none">
<line x1="36.5" y1="304.5" x2="36.5" y2="150"/>
<line x1="160.2" y1="542.5" x2="160.2" y2="254"/>
<line x1="219.6" y1="380" x2="219.6" y2="197"/>
<path d="M36.5,304.5 C38,262 52,214 86,193.5"/>
</g>
<g fill="#1f77b4">
<polygon points="36.5,132 31,153.2 42,153.2"/>
<polygon points="160.2,236 154.7,257.2 165.7,257.2"/>
<polygon points="219.6,179 214.1,200.2 225.1,200.2"/>
<polygon points="103.6,187 82.4,185.8 85.6,196.8"/>
</g>
<ellipse cx="35.5" cy="108.4" rx="11" ry="11.5" fill="#000"/>
<path d="M28.5,107.9 H43.3 M35.7,100 V115.3" stroke="#fff" stroke-width="2.7" fill="none"/>
<ellipse cx="261.2" cy="155.3" rx="10.7" ry="11.4" fill="#000"/>
<line x1="257.0" y1="155.4" x2="265.4" y2="155.4" stroke="#fff" stroke-width="3"/>
<ellipse cx="387.5" cy="155.3" rx="10.7" ry="11.4" fill="#000"/>
<line x1="383.3" y1="155.4" x2="391.7" y2="155.4" stroke="#fff" stroke-width="3"/>
<path d="M44,281.6 L45.8,283.4 L44,285.2 L42.2,283.4Z" fill="#d8202a"/>
<line x1="311.6" y1="318" x2="311.6" y2="335.5" stroke="#000" stroke-width="1.3"/>
<polygon points="311.6,310.2 308.4,320.2 314.8,320.2"/>
<line x1="311.6" y1="361" x2="311.6" y2="379.4" stroke="#000" stroke-width="1.3"/>
<path d="M428.8,299.2 C437,298 443,293 444.4,286" fill="none" stroke="#cc0010" stroke-width="2"/>
<polygon points="445.2,280.4 441.4,288.6 447.6,289.2" fill="#cc0010"/>
<path d="M428.8,317.2 C437,318 443,323 444.2,329.5" fill="none" stroke="#0a3c9c" stroke-width="2"/>
<polygon points="444.6,335.2 441,327 447.2,326.6" fill="#0a3c9c"/>
<polygon points="443.4,380.4 427.4,376 427.4,384.8" fill="#669900"/>
<text transform="translate(13.4,573) scale(0.82,1)" font-family="'Liberation Sans', Arial, sans-serif" font-weight="bold" font-size="30.5" fill="#000" stroke="#000" stroke-width="0.5" text-anchor="start" >Ag</text>
<text transform="translate(123.4,579) scale(0.82,1)" font-family="'Liberation Sans', Arial, sans-serif" font-weight="bold" font-size="30.5" fill="#000" stroke="#000" stroke-width="0.5" text-anchor="start" >MgO</text>
<text transform="translate(238,556.4) scale(0.89,1)" font-family="'Liberation Sans', Arial, sans-serif" font-weight="bold" font-size="22" fill="#000" stroke="#000" stroke-width="0.5" text-anchor="start" >Short</text>
<text transform="translate(238,584.6) scale(0.88,1)" font-family="'Liberation Sans', Arial, sans-serif" font-weight="bold" font-size="22" fill="#000" stroke="#000" stroke-width="0.5" text-anchor="start" >GNR</text>
<text transform="translate(363.6,556.4) scale(0.9,1)" font-family="'Liberation Sans', Arial, sans-serif" font-weight="bold" font-size="22" fill="#333" stroke="#333" stroke-width="0.5" text-anchor="start" >Long</text>
<text transform="translate(364.2,584.6) scale(0.88,1)" font-family="'Liberation Sans', Arial, sans-serif" font-weight="bold" font-size="22" fill="#333" stroke="#333" stroke-width="0.5" text-anchor="start" >GNR</text>
<text transform="translate(233,135) scale(0.82,1)" font-family="'Liberation Sans', Arial, sans-serif" font-weight="bold" font-size="24" fill="#000" stroke="#000" stroke-width="0.5" text-anchor="start" >q even</text>
<text transform="translate(363.8,135) scale(0.82,1)" font-family="'Liberation Sans', Arial, sans-serif" font-weight="bold" font-size="24" fill="#000" stroke="#000" stroke-width="0.5" text-anchor="start" >q odd</text>
<text transform="translate(232.6,284.4) scale(0.85,1)" font-family="'Liberation Sans', Arial, sans-serif" font-weight="bold" font-size="20" fill="#a0714a" stroke="#a0714a" stroke-width="0.5" text-anchor="start" >LUMO</text>
<text transform="translate(233.4,341.4) scale(0.82,1)" font-family="'Liberation Sans', Arial, sans-serif" font-weight="bold" font-size="20" fill="#6f4b2f" stroke="#6f4b2f" stroke-width="0.5" text-anchor="start" >HOMO</text>
<text transform="translate(433,279.4) scale(0.87,1)" font-family="'Liberation Sans', Arial, sans-serif" font-weight="bold" font-size="20" fill="#cc0010" stroke="#cc0010" stroke-width="0.5" text-anchor="start" >SUMO</text>
<text transform="translate(433,350) scale(0.86,1)" font-family="'Liberation Sans', Arial, sans-serif" font-weight="bold" font-size="20.5" fill="#0a3c9c" stroke="#0a3c9c" stroke-width="0.5" text-anchor="start" >SOMO</text>
<text transform="translate(443,387.6) scale(0.82,1)" font-family="'Liberation Sans', Arial, sans-serif" font-weight="bold" font-size="22.5" fill="#669900" stroke="#669900" stroke-width="0.5" text-anchor="start" >SPTES</text>
<text transform="translate(303,297) scale(0.87,1)" font-family="'Liberation Sans', Arial, sans-serif" font-weight="bold" font-size="32" fill="#000" stroke="#000" stroke-width="0.5" text-anchor="start" >μ</text>
<text x="298.6" y="357.6" font-family="'Liberation Sans', Arial, sans-serif" font-size="33.5" fill="#000">Δ</text>
<text transform="translate(318.8,357.4) scale(0.85,1)" font-family="'Liberation Sans', Arial, sans-serif" font-weight="bold" font-size="31" fill="#000" stroke="#000" stroke-width="0.5" text-anchor="start" >μ</text>
<text transform="translate(299.6,399.4) scale(0.9,1)" font-family="'Liberation Sans', Arial, sans-serif" font-weight="bold" font-size="26" fill="#a6a6a6">μ<tspan font-size="20" dx="-0.4" dy="0.6">o</tspan></text>
<text transform="translate(31.2,188.8) rotate(-90) scale(0.82,1)" font-family="'Liberation Sans', Arial, sans-serif" font-weight="bold" font-size="22" fill="#1f77b4" stroke="#1f77b4" stroke-width="0.5" text-anchor="middle">4.3 eV</text>
<text transform="translate(104.6,233.2) rotate(-90) scale(0.82,1)" font-family="'Liberation Sans', Arial, sans-serif" font-weight="bold" font-size="22" fill="#1f77b4" stroke="#1f77b4" stroke-width="0.5" text-anchor="middle">3.7 eV</text>
<text transform="translate(156.4,341) rotate(-90) scale(0.82,1)" font-family="'Liberation Sans', Arial, sans-serif" font-weight="bold" font-size="22" fill="#1f77b4" stroke="#1f77b4" stroke-width="0.5" text-anchor="middle">7.2 eV</text>
<text transform="translate(214.6,229.5) rotate(-90) scale(0.82,1)" font-family="'Liberation Sans', Arial, sans-serif" font-weight="bold" font-size="22" fill="#1f77b4" stroke="#1f77b4" stroke-width="0.5" text-anchor="middle">4.6 eV</text>
<text transform="translate(197.2,340.9) scale(0.82,1)" font-family="'Liberation Sans', Arial, sans-serif" font-weight="bold" font-size="23" font-style="italic" fill="#1f77b4">E<tspan font-size="15" dy="4.6" dx="-0.5">a</tspan></text>
<text transform="translate(14.4,289.8) scale(0.9,1)" font-family="'Liberation Serif', 'Times New Roman', serif" font-size="29.4" fill="#1f77b4">Φ</text>
</svg>
</body>
</html>
